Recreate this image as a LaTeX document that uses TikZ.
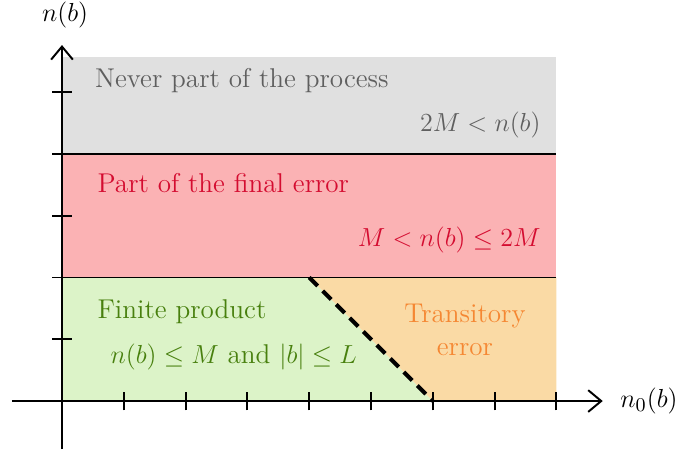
\documentclass[tikz,border=0pt]{standalone}
\usetikzlibrary{arrows.meta}
\definecolor{greyfill}{RGB}{224,224,224}
\definecolor{redfill}{RGB}{251,178,180}
\definecolor{greenfill}{RGB}{220,243,200}
\definecolor{orangefill}{RGB}{250,218,165}
\definecolor{greytext}{RGB}{95,95,95}
\definecolor{redtext}{RGB}{212,12,48}
\definecolor{greentext}{RGB}{72,128,14}
\definecolor{orangetext}{RGB}{245,135,50}
\begin{document}
\begin{tikzpicture}[x=1cm,y=1cm,font=\fontsize{12.5}{15}\selectfont,
  axisline/.style={line width=0.9pt,-{Straight Barb[length=6pt,width=10pt,line width=0.9pt]}},
  tickline/.style={line width=0.85pt},
  sepline/.style={line width=0.8pt},
  dashline/.style={line width=1.8pt,dash pattern=on 5.5pt off 3.3pt},
  lbl/.style={inner sep=0pt}]
\useasboundingbox (-1.003,-0.825) rectangle (9.984,6.489);
% regions
\fill[greyfill] (0,4) rectangle (8,5.56);
\fill[redfill] (0,2) rectangle (8,4);
\fill[greenfill] (0,0) -- (0,2) -- (4,2) -- (6,0) -- cycle;
\fill[orangefill] (4,2) -- (8,2) -- (8,0) -- (6,0) -- cycle;
% coordinates
\coordinate (L4) at (0,4); \coordinate (R4) at (8,4);
\coordinate (L2) at (0,2); \coordinate (R2) at (8,2);
\coordinate (D1) at (4,2); \coordinate (D2) at (6,0);
\coordinate (xs) at (-0.81,0); \coordinate (xe) at (8.75,0);
\coordinate (ys) at (0,-0.78); \coordinate (ye) at (0,5.76);
\draw[sepline] (L4) -- (R4);
\draw[sepline] (L2) -- (R2);
% ticks
\foreach \i in {1,...,8} \draw[tickline] (\i,-0.15) -- (\i,0.15);
\foreach \j in {1,...,5} \draw[tickline] (-0.16,\j) -- (0.16,\j);
\draw[dashline] (D1) -- (D2);
% axes
\draw[axisline] (xs) -- (xe);
\draw[axisline] (ys) -- (ye);
% labels
\node[lbl] (ny) at (0.05,6.25) {$n(b)$};
\node[lbl,anchor=west] (nx) at (9.03,0) {$n_0(b)$};
\node[lbl,anchor=west,text=greytext] (never) at (0.53,5.18) {Never part of the process};
\node[lbl,anchor=east,text=greytext] (c1) at (7.75,4.47) {$2M < n(b)$};
\node[lbl,anchor=west,text=redtext] (part) at (0.57,3.53) {Part of the final error};
\node[lbl,anchor=east,text=redtext] (c2) at (7.75,2.6) {$M < n(b) \leq 2M$};
\node[lbl,anchor=west,text=greentext] (fin) at (0.57,1.44) {Finite product};
\node[lbl,anchor=west,text=greentext] (c3) at (0.78,0.71) {$n(b) \leq M$ and $|b| \leq L$};
\node[lbl,align=center,text=orangetext] (tr) at (6.52,1.15) {Transitory\\error};
\end{tikzpicture}
\end{document}
